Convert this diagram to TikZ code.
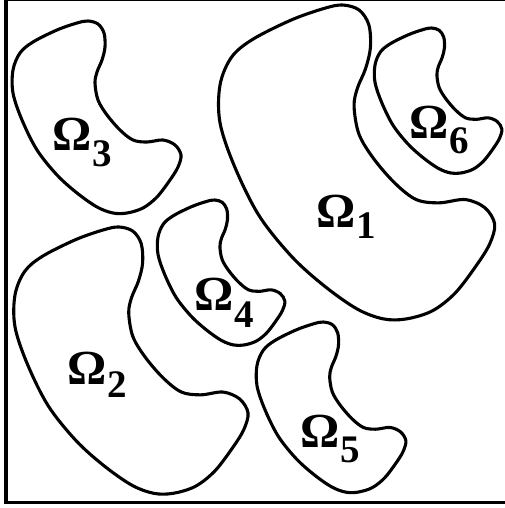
\documentclass[tikz,border=0pt]{standalone}
\usepackage{fontspec}
\setmainfont{Liberation Serif}
\newfontfamily\omfamily{Liberation Serif}
\newcommand{\omfont}{\omfamily\bfseries\fontsize{49}{49}\selectfont}
\newcommand{\subfont}{\omfamily\bfseries\fontsize{39}{39}\selectfont}
\tikzset{
  blob/.style={draw=black, line width=3.1pt},
  frameline/.style={draw=black, line width=3.6pt},
  lab/.style={anchor=base west, inner sep=0pt, outer sep=0pt, font=\omfont},
  kidney/.pic={
    \draw[blob] plot[smooth cycle, tension=0.55] coordinates {
      (0,49) (7,32) (20,21) (44,9) (64,2) (75,0) (85,3) (91,12) (92,26)
      (89,39) (84,51) (82,62) (85,79) (94,94) (107,109) (120,119) (134,121)
      (150,119) (162,124) (168,134) (165,146) (157,159) (144,176) (130,187)
      (114,192) (100,192) (84,186) (64,172) (44,154) (24,129) (9,99) (0,72)};
  }
}
\newcommand{\omlab}[5]{\node[lab] (#1) at (#2,#3) {Ω\kern1pt\raisebox{-#5pt}{\subfont #4}};}
\begin{document}
\begin{tikzpicture}[x=1pt,y=-1pt]
  \useasboundingbox (0,0) rectangle (504,508);
  \fill[white] (-10,-10) rectangle (520,520);
  % frame: its right side lies outside the picture
  \coordinate (ftr) at (540,-0.4);
  \coordinate (ftl) at (6,-0.4);
  \coordinate (fbl) at (6,502.6);
  \coordinate (fbr) at (540,502.6);
  \begin{scope}
    \clip (-10,-10) rectangle (508,520);
    \draw[frameline] (ftr) -- (ftl) -- (fbl) -- (fbr);
  \end{scope}
  % regions
  \pic at (13,21) {kidney};
  \pic[scale=1.635] at (220,5) {kidney};
  \pic[scale=0.755] at (375,28) {kidney};
  \pic[scale=0.755] at (158,200) {kidney};
  \pic[scale=1.387] at (15,227) {kidney};
  \pic[scale=0.886] at (257,322) {kidney};
  % labels
  \omlab{o3}{52}{150}{3}{16}
  \omlab{o1}{316}{227}{1}{11}
  \omlab{o6}{409}{138}{6}{15}
  \omlab{o4}{194}{310}{4}{17}
  \omlab{o2}{67}{384}{2}{13}
  \omlab{o5}{300}{447}{5}{15}
\end{tikzpicture}
\end{document}
